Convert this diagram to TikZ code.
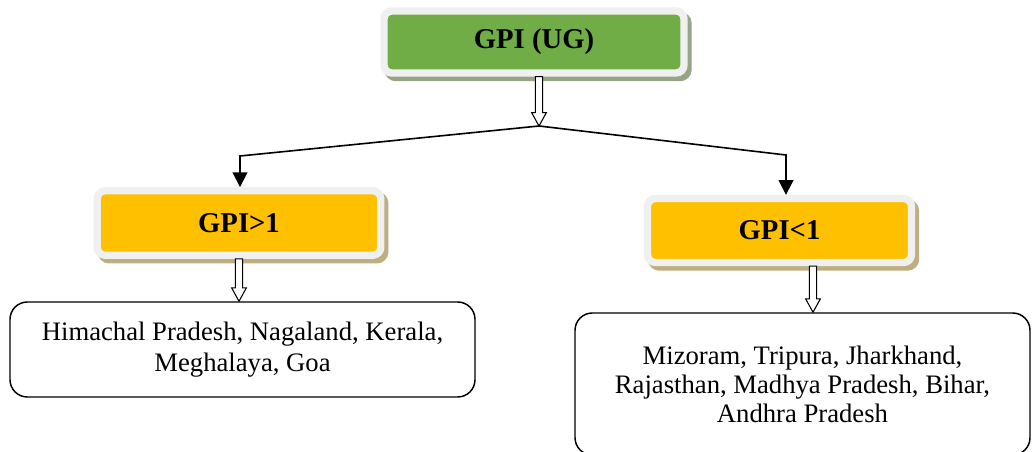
\documentclass[tikz,border=0pt]{standalone}
\usepackage{fontspec}
\setmainfont{Liberation Serif}
\usetikzlibrary{shadows,arrows.meta,calc}
\definecolor{ggreen}{HTML}{70AD47}
\definecolor{gold}{HTML}{FFC000}
\definecolor{framegray}{HTML}{F0F0F0}
\definecolor{gshadow}{HTML}{98A486}
\definecolor{yshadow}{HTML}{BFAF80}
\begin{document}
\begin{tikzpicture}[x=0.75pt,y=-0.75pt,
  headbox/.style={draw=framegray, line width=5.5pt, rounded corners=6pt,
    font=\fontsize{21.5}{24}\selectfont\bfseries, inner sep=0pt,
    drop shadow={shadow xshift=3pt, shadow yshift=-3.4pt, opacity=1, fill=#1, draw=#1, line width=5.5pt}},
  listbox/.style={draw=black, line width=1.1pt, rounded corners=13pt, align=center,
    inner sep=0pt},
  link/.style={line width=1.2pt, -{Triangle[length=11pt,width=11pt]}},
  hollow/.style={draw=black, fill=white, line width=0.8pt,
    to path={let \p1=(\tikztostart), \p2=(\tikztotarget) in
      ({\x1-2.7pt},{\y1}) -- ({\x1-2.7pt},{\y2+10pt}) -- ({\x1-5.5pt},{\y2+10pt})
      -- ({\x1},{\y2}) -- ({\x1+5.5pt},{\y2+10pt}) -- ({\x1+2.7pt},{\y2+10pt})
      -- ({\x1+2.7pt},{\y1}) -- cycle}}
]
\useasboundingbox (0,0) rectangle (1032,452);
\fill[white] (0,0) rectangle (1032,452);

\node[headbox=gshadow, fill=ggreen, minimum width=225pt, minimum height=46.5pt] (top) at (534,42) {GPI (UG)};
\node[headbox=yshadow, fill=gold, minimum width=212.6pt, minimum height=48.4pt] (gt) at (239,223) {GPI>1};
\node[headbox=yshadow, fill=gold, minimum width=198pt, minimum height=48pt] (lt) at (779.5,230.5) {GPI<1};

\node[listbox, minimum width=348.75pt, minimum height=71.25pt,
  font=\fontsize{20}{23}\selectfont] (lb) at (242.5,349.5)
  {Himachal Pradesh, Nagaland, Kerala,\\Meghalaya, Goa};
\node[listbox, minimum width=341.25pt, minimum height=106.5pt,
  font=\fontsize{20}{21.75}\selectfont] (rb) at (802.5,384)
  {Mizoram, Tripura, Jharkhand,\\Rajasthan, Madhya Pradesh, Bihar,\\Andhra Pradesh};

\coordinate (split) at (539,126);
\coordinate (cl) at (240,156);
\coordinate (cr) at (786,155);
\coordinate (ra) at (813,0);

\draw[hollow] (top.south -| split) to (split);
\draw[link] (split) -- (cl) -- (cl |- gt.north);
\draw[link] (split) -- (cr) -- (cr |- lt.north);
\draw[hollow] (gt.south) to (lb.north);
\draw[hollow] (lt.south -| ra) to (rb.north -| ra);
\end{tikzpicture}
\end{document}
